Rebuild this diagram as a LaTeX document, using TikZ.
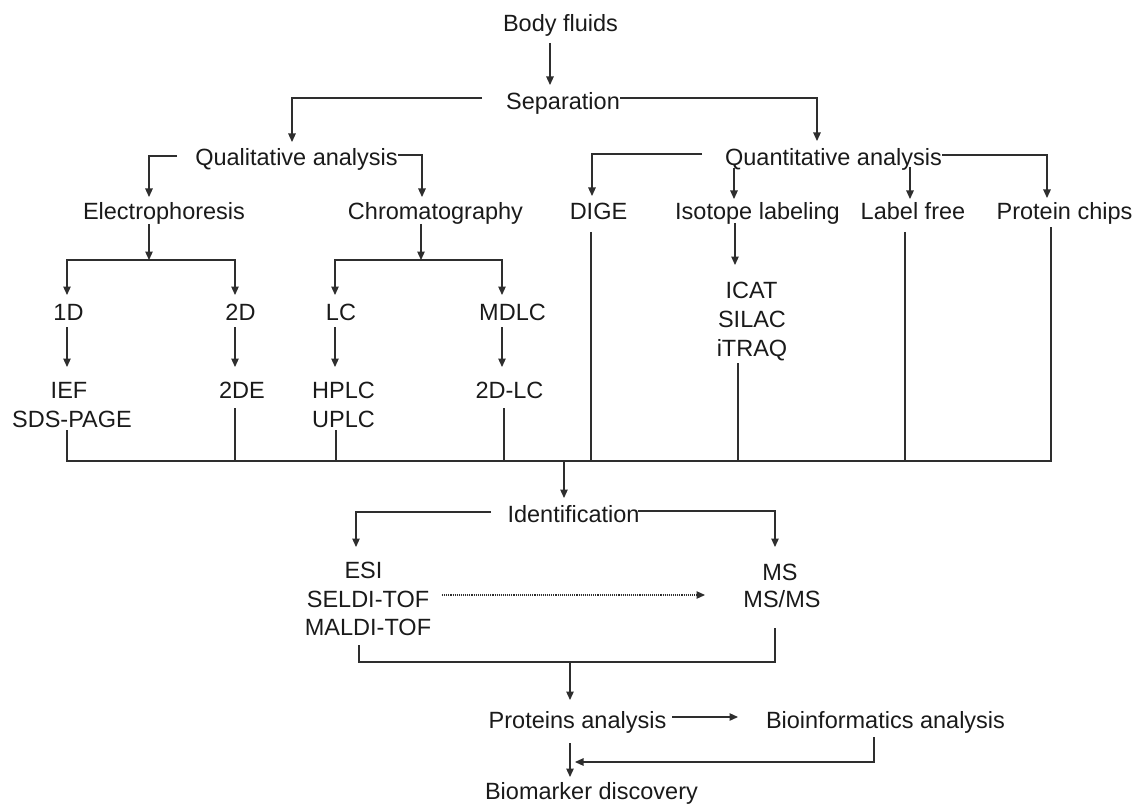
\documentclass[tikz,border=0pt]{standalone}
\usepackage{fontspec}
\setmainfont{Liberation Sans}
\usetikzlibrary{arrows.meta,calc}
\definecolor{ink}{HTML}{1A1A1A}
\definecolor{wire}{HTML}{2E2E2E}
\begin{document}
\begin{tikzpicture}[x=1pt,y=-1pt,
  lbl/.style={inner sep=0pt,anchor=base,text=ink,font=\fontsize{23.5}{28}\selectfont},
  link/.style={draw=wire,line width=1.2pt},
  arr/.style={link,-{Triangle[length=8.5pt,width=7.5pt]}},
  dotarr/.style={draw=wire,line width=1.1pt,densely dotted,-{Triangle[length=8.5pt,width=7.5pt]}}]
\useasboundingbox (0,0) rectangle (1135,805);
% nodes
\node[lbl] (bf) at (560.5,32) {Body fluids};
\node[lbl] (sep) at (563,110) {Separation};
\node[lbl] (qual) at (296.5,166) {Qualitative analysis};
\node[lbl] (quant) at (833.5,166) {Quantitative analysis};
\node[lbl] (elec) at (164,220) {Electrophoresis};
\node[lbl] (chrom) at (435.5,220) {Chromatography};
\node[lbl] (dige) at (598.5,220) {DIGE};
\node[lbl] (iso) at (757.5,220) {Isotope labeling};
\node[lbl] (lf) at (913,220) {Label free};
\node[lbl] (pc) at (1064.5,220) {Protein chips};
\node[lbl] (d1) at (68.5,320) {1D};
\node[lbl] (d2) at (240.5,320) {2D};
\node[lbl] (lc) at (341,320) {LC};
\node[lbl] (mdlc) at (512.5,320) {MDLC};
\node[lbl] (ief) at (69,398) {IEF};
\node[lbl] (sds) at (72,427) {SDS-PAGE};
\node[lbl] (de2) at (242,398) {2DE};
\node[lbl] (hplc) at (343.5,398) {HPLC};
\node[lbl] (uplc) at (343.5,427) {UPLC};
\node[lbl] (lctwo) at (509.5,398) {2D-LC};
\node[lbl] (icat) at (751.5,298) {ICAT};
\node[lbl] (silac) at (752,327) {SILAC};
\node[lbl] (itraq) at (752,356) {iTRAQ};
\node[lbl] (ident) at (573.5,522) {Identification};
\node[lbl] (esi) at (363.5,578) {ESI};
\node[lbl] (seldi) at (368,607) {SELDI-TOF};
\node[lbl] (maldi) at (368,635) {MALDI-TOF};
\node[lbl] (ms) at (780,580) {MS};
\node[lbl] (msms) at (782,607) {MS/MS};
\node[lbl] (prot) at (577.5,728) {Proteins analysis};
\node[lbl] (bio) at (885.5,728) {Bioinformatics analysis};
\node[lbl] (bmd) at (591.5,799) {Biomarker discovery};
% junction coordinates
\coordinate (ebar) at (149,260);
\coordinate (cbar) at (421,260);
\coordinate (bbar) at (564,461);
\coordinate (pj) at (570,662);
% connectors
\draw[arr] ($(bf.base)+(-10.5,11)$) -- ($(sep.base)+(-13,-25)$);
\draw[arr] ($(sep.base)+(-81,-12)$) -| ($(qual.base)+(-4.5,-24)$);
\draw[arr] ($(sep.base)+(57,-12)$) -| ($(quant.base)+(-16.5,-25)$);
\draw[arr] ($(qual.base)+(-119.5,-10)$) -| ($(elec.base)+(-15,-23)$);
\draw[arr] ($(qual.base)+(101.5,-11)$) -| ($(chrom.base)+(-13.5,-23)$);
\draw[arr] ($(quant.base)+(-131.5,-12)$) -| ($(dige.base)+(-6.5,-24)$);
\draw[arr] ($(quant.base)+(-99.5,2)$) -- ($(iso.base)+(-23.5,-21)$);
\draw[arr] ($(quant.base)+(76.5,1)$) -- ($(lf.base)+(-3,-21)$);
\draw[arr] ($(quant.base)+(108.5,-11)$) -| ($(pc.base)+(-17.5,-22)$);
% electrophoresis and chromatography branches
\draw[arr] ($(elec.base)+(-15,4)$) -- (ebar);
\draw[arr] (ebar) -| ($(d1.base)+(-1.5,-25)$);
\draw[arr] (ebar) -| ($(d2.base)+(-5.5,-25)$);
\draw[arr] ($(chrom.base)+(-14.5,4)$) -- (cbar);
\draw[arr] (cbar) -| ($(lc.base)+(-6,-25)$);
\draw[arr] (cbar) -| ($(mdlc.base)+(-10.5,-25)$);
\draw[arr] ($(d1.base)+(-1.5,7)$) -- ($(ief.base)+(-2,-31)$);
\draw[arr] ($(d2.base)+(-5.5,7)$) -- ($(de2.base)+(-7,-31)$);
\draw[arr] ($(lc.base)+(-6,7)$) -- ($(hplc.base)+(-8.5,-31)$);
\draw[arr] ($(mdlc.base)+(-10.5,7)$) -- ($(lctwo.base)+(-7.5,-31)$);
\draw[arr] ($(iso.base)+(-22.5,3)$) -- ($(icat.base)+(-16.5,-33)$);
% collecting bar
\draw[link] ($(sds.base)+(-5,3)$) |- (bbar) -| ($(pc.base)+(-13.5,7)$);
\draw[link] ($(de2.base)+(-7,10)$) -- ($(de2.base)+(-7,63)$);
\draw[link] ($(uplc.base)+(-7.5,3)$) -- ($(uplc.base)+(-7.5,34)$);
\draw[link] ($(lctwo.base)+(-5.5,10)$) -- ($(lctwo.base)+(-5.5,63)$);
\draw[link] ($(dige.base)+(-7.5,12)$) -- ($(dige.base)+(-7.5,241)$);
\draw[link] ($(itraq.base)+(-14,7)$) -- ($(itraq.base)+(-14,105)$);
\draw[link] ($(lf.base)+(-8,12)$) -- ($(lf.base)+(-8,241)$);
\draw[arr] (bbar) -- ($(ident.base)+(-9.5,-24)$);
% identification
\draw[arr] ($(ident.base)+(-82.5,-10)$) -| ($(esi.base)+(-7.5,-31)$);
\draw[arr] ($(ident.base)+(64.5,-11)$) -| ($(ms.base)+(-5,-33)$);
\draw[dotarr] ($(seldi.base)+(74,-12)$) -- ($(msms.base)+(-77,-12)$);
\draw[link] ($(maldi.base)+(-9,10)$) |- (pj) -| ($(msms.base)+(-7,21)$);
\draw[arr] (pj) -- ($(prot.base)+(-7.5,-28)$);
% final
\draw[arr] ($(prot.base)+(94.5,-11)$) -- ($(bio.base)+(-147.5,-11)$);
\draw[arr] ($(prot.base)+(-7.5,15)$) -- ($(bmd.base)+(-21.5,-22)$);
\draw[arr] ($(bio.base)+(-11.5,9)$) |- ($(bmd.base)+(-16.5,-37)$);
\end{tikzpicture}
\end{document}
